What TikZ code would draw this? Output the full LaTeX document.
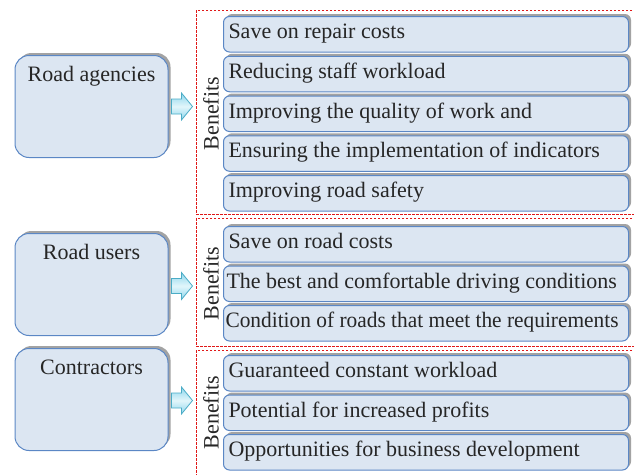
\documentclass[tikz,border=0pt]{standalone}
\usepackage{fontspec}
\setmainfont{Liberation Serif}
\usetikzlibrary{shadows,calc}
\definecolor{boxfill}{HTML}{DCE6F2}
\definecolor{boxline}{HTML}{5B87C5}
\definecolor{shadowgray}{HTML}{A3A3A3}
\definecolor{dashred}{HTML}{E01818}
\definecolor{arrowline}{HTML}{4BACC6}
\definecolor{arrowA}{HTML}{8ED6EC}
\definecolor{arrowB}{HTML}{E2F6FB}
\definecolor{txt}{HTML}{262626}
\newcommand{\itemtext}[1]{\makebox[395pt][l]{#1}}
\begin{document}
\begin{tikzpicture}[x=1pt,y=-1pt,
  every node/.style={font=\fontsize{22}{26}\selectfont, text=txt},
  boxshadow/.style={drop shadow={shadow xshift=2.5pt,shadow yshift=2.5pt,fill=shadowgray,opacity=1}},
  leftbox/.style={draw=boxline, line width=1pt, fill=boxfill, rounded corners=14pt, boxshadow,
    minimum width=153pt, inner ysep=10pt, text height=16pt, text depth=66pt, anchor=north},
  item/.style={draw=boxline, line width=1pt, fill=boxfill, rounded corners=6pt, boxshadow,
    inner xsep=5pt, inner ysep=4pt, text height=18pt, text depth=9.5pt, anchor=north west},
  redframe/.style={draw=dashred, line width=0.9pt, dash pattern=on 2.5pt off 1.5pt},
  bigarrow/.style={draw=arrowline, line width=0.8pt, top color=arrowA, bottom color=arrowA, middle color=arrowB},
  benefit/.style={rotate=90}
]
\useasboundingbox (0,0) rectangle (634,474);

% dashed frames (open on the right)
\coordinate (f1a) at (640,10);  \coordinate (f1b) at (196,10);  \coordinate (f1c) at (196,214); \coordinate (f1d) at (640,214);
\coordinate (f2a) at (640,218); \coordinate (f2b) at (196,218); \coordinate (f2c) at (196,346); \coordinate (f2d) at (640,346);
\coordinate (f3a) at (640,350); \coordinate (f3b) at (196,350); \coordinate (f3c) at (196,480);
\draw[redframe] (f1a) -- (f1b) -- (f1c) -- (f1d);
\draw[redframe] (f2a) -- (f2b) -- (f2c) -- (f2d);
\draw[redframe] (f3a) -- (f3b) -- (f3c);

% left boxes
\node[leftbox] (ra) at (91.5,55) {Road agencies};
\node[leftbox] (ru) at (91.5,233) {Road users};
\node[leftbox] (co) at (91.5,348) {Contractors};

% items section 1
\node[item] (a1) at (223,16)    {\itemtext{Save on repair costs}};
\node[item] (a2) at (223,55.75) {\itemtext{Reducing staff workload}};
\node[item] (a3) at (223,95.5)  {\itemtext{Improving the quality of work and}};
\node[item] (a4) at (223,135.25){\itemtext{Ensuring the implementation of indicators}};
\node[item] (a5) at (223,175)   {\itemtext{Improving road safety}};
% items section 2
\node[item] (b1) at (223,226)   {\itemtext{Save on road costs}};
\node[item] (b2) at (223,265.5) {\itemtext{\hspace*{-2pt}The best and comfortable driving conditions}};
\node[item] (b3) at (223,305)   {\itemtext{\hspace*{-3pt}\scalebox{0.972}[1]{Condition of roads that meet the requirements}}};
% items section 3
\node[item] (c1) at (223,355)   {\itemtext{Guaranteed constant workload}};
\node[item] (c2) at (223,394.5) {\itemtext{Potential for increased profits}};
\node[item] (c3) at (223,434)   {\itemtext{Opportunities for business development}};

% Benefits labels
\node[benefit] (l1) at ($(a1.west)!0.5!(a5.west)+(-12,0)$) {Benefits};
\node[benefit] (l2) at ($(b1.west)!0.5!(b3.west)+(-12,0)$) {Benefits};
\node[benefit] (l3) at ($(c1.west)!0.5!(c3.west)+(-12,0)$) {Benefits};

% block arrows from each group box towards its frame
\draw[bigarrow] ($(ra.east)+(3,-7.5)$) -- ++(10,0) -- ++(0,-6) -- ++(11,13.5) -- ++(-11,13.5) -- ++(0,-6) -- ++(-10,0) -- cycle;
\draw[bigarrow] ($(ru.east)+(3,-6)$) -- ++(10,0) -- ++(0,-6) -- ++(11,13.5) -- ++(-11,13.5) -- ++(0,-6) -- ++(-10,0) -- cycle;
\draw[bigarrow] ($(co.east)+(3,-6.5)$) -- ++(10,0) -- ++(0,-6) -- ++(11,13.5) -- ++(-11,13.5) -- ++(0,-6) -- ++(-10,0) -- cycle;
\end{tikzpicture}
\end{document}
